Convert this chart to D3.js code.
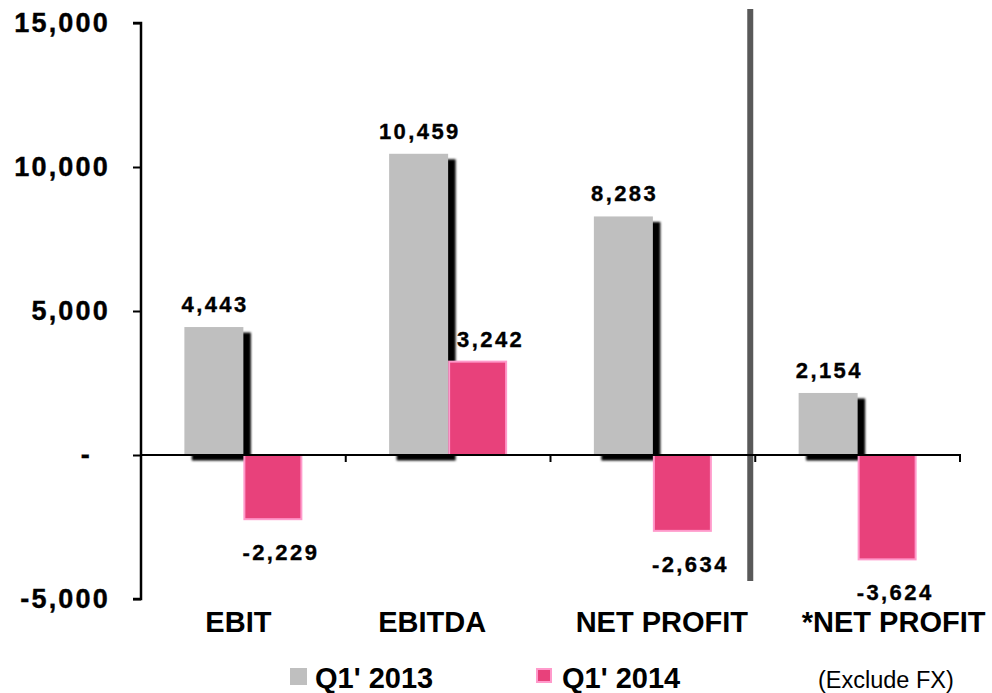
<!DOCTYPE html>
<html>
<head>
<meta charset="utf-8">
<script src="https://cdn.jsdelivr.net/npm/d3@7/dist/d3.min.js"></script>
<style>
  html, body { margin: 0; padding: 0; background: #ffffff; }
  svg { display: block; }
  text { font-family: "Liberation Sans", Arial, Helvetica, sans-serif; fill: #000; }
</style>
</head>
<body>
<svg id="chart" width="992" height="693"></svg>
<script>
// Categories and the two reporting periods
const categories = ["EBIT", "EBITDA", "NET PROFIT", "*NET PROFIT"];
const seriesNames = ["Q1' 2013", "Q1' 2014"];
const q1_2013 = [4443, 10459, 8283, 2154];
const q1_2014 = [-2229, 3242, -2634, -3624];
const yTicks = [-5000, 0, 5000, 10000, 15000];
const footnote = "(Exclude FX)";

// Horizontal nudges for the category captions (px)
const captionShift = [-5, -16, 9, 36];

const colors = { gray: "#BFBFBF", pink: "#E8417B", pinkEdge: "#FF9ACB" };

const svg = d3.select("#chart");

// Thousands separator with a plain hyphen for negatives
const fmt = d3.formatLocale({ decimal: ".", thousands: ",", grouping: [3], currency: ["", ""], minus: "-" }).format(",");

const x = d3.scaleBand().domain(categories).range([141, 960]).paddingInner(0).paddingOuter(0);
const groupWidth = 118;
const xs = d3.scaleBand().domain(seriesNames).range([0, groupWidth]);
const y = d3.scaleLinear().domain([-5000, 15000]).range([599, 23]);

const rows = categories.map((c, i) => ({ cat: c, i, a: q1_2013[i], b: q1_2014[i] }));
const groupX = d => x(d.cat) + (x.bandwidth() - groupWidth) / 2;

// Soft drop shadow behind the 2013 bars
const defs = svg.append("defs");
defs.append("filter").attr("id", "soft").attr("x", "-20%").attr("y", "-20%")
  .attr("width", "140%").attr("height", "140%")
  .append("feGaussianBlur").attr("stdDeviation", 0.8);

const bars = svg.append("g");

bars.selectAll("rect.shadow").data(rows).join("rect")
  .attr("class", "shadow")
  .attr("x", d => groupX(d) + xs(seriesNames[0]) + 7.5)
  .attr("y", d => Math.min(y(d.a), y(0)) + 5.5)
  .attr("width", xs.bandwidth())
  .attr("height", d => Math.abs(y(d.a) - y(0)))
  .attr("fill", "#000")
  .attr("filter", "url(#soft)");

bars.selectAll("rect.q13").data(rows).join("rect")
  .attr("class", "q13")
  .attr("x", d => groupX(d) + xs(seriesNames[0]))
  .attr("y", d => Math.min(y(d.a), y(0)))
  .attr("width", xs.bandwidth())
  .attr("height", d => Math.abs(y(d.a) - y(0)))
  .attr("fill", colors.gray);

bars.selectAll("rect.q14").data(rows).join("rect")
  .attr("class", "q14")
  .attr("x", d => groupX(d) + xs(seriesNames[1]) + 1)
  .attr("y", d => Math.min(y(d.b), y(0)))
  .attr("width", xs.bandwidth() - 2)
  .attr("height", d => Math.abs(y(d.b) - y(0)))
  .attr("fill", colors.pink)
  .attr("stroke", colors.pinkEdge)
  .attr("stroke-width", 2);

// Separator before the FX-adjusted group
const sepX = x(categories[3]) - 5;
svg.append("line")
  .attr("x1", sepX).attr("x2", sepX)
  .attr("y1", 9).attr("y2", 581)
  .attr("stroke", "#595959").attr("stroke-width", 6);

// Y axis
const yAxis = d3.axisLeft(y).tickValues(yTicks).tickSize(8).tickPadding(23)
  .tickFormat(d => d === 0 ? "-" : fmt(d));
const gy = svg.append("g").attr("transform", "translate(141,0)").call(yAxis);
gy.select(".domain").attr("stroke", "#000").attr("stroke-width", 2.5)
  .attr("d", `M-8,${y(15000)}H0V${y(-5000)}H-8`);
gy.selectAll(".tick line").attr("stroke", "#000").attr("stroke-width", 2);
gy.selectAll(".tick text")
  .style("font-family", '"Liberation Sans", Arial, sans-serif')
  .style("font-size", "27px").style("font-weight", "bold")
  .style("letter-spacing", "2.2px").attr("fill", "#000")
  .attr("stroke", "#000").attr("stroke-width", 0.4)
  .attr("dx", d => d === 0 ? -18 : 0);

// Zero baseline with category dividers
const zeroY = y(0);
svg.append("line").attr("x1", 141).attr("x2", 961).attr("y1", zeroY).attr("y2", zeroY)
  .attr("stroke", "#000").attr("stroke-width", 2);
const dividers = categories.slice(1).map(c => x(c)).concat([x.range()[1]]);
svg.selectAll("line.div").data(dividers).join("line")
  .attr("class", "div")
  .attr("x1", d => d).attr("x2", d => d)
  .attr("y1", zeroY).attr("y2", zeroY + 7)
  .attr("stroke", "#000").attr("stroke-width", 2);

// Value labels
const labelStyle = sel => sel
  .attr("text-anchor", "middle")
  .style("font-size", "22px").style("font-weight", "bold")
  .style("letter-spacing", "2.4px")
  .attr("stroke", "#000").attr("stroke-width", 0.35);

svg.selectAll("text.v13").data(rows).join("text")
  .attr("class", "v13")
  .attr("x", d => groupX(d) + xs(seriesNames[0]) + xs.bandwidth() / 2 + 1.2)
  .attr("y", d => d.a >= 0 ? y(d.a) - 15 : y(d.a) + 41)
  .text(d => fmt(d.a))
  .call(labelStyle);

svg.selectAll("text.v14").data(rows).join("text")
  .attr("class", "v14")
  .attr("x", d => groupX(d) + xs(seriesNames[1]) + xs.bandwidth() / 2 + (d.b >= 0 ? 13 : 8))
  .attr("y", d => d.b >= 0 ? y(d.b) - 15 : y(d.b) + 41)
  .text(d => fmt(d.b))
  .call(labelStyle);

// Category captions
svg.selectAll("text.cat").data(categories).join("text")
  .attr("class", "cat")
  .attr("x", (c, i) => x(c) + x.bandwidth() / 2 + captionShift[i])
  .attr("y", 632)
  .attr("text-anchor", "middle")
  .style("font-size", "29px").style("font-weight", "bold")
  .text(c => c);

// Legend
const legend = svg.append("g");
legend.append("rect").attr("x", 290).attr("y", 668).attr("width", 17).attr("height", 17)
  .attr("fill", colors.gray);
legend.append("text").attr("x", 315).attr("y", 688)
  .style("font-size", "29px").style("font-weight", "bold").text(seriesNames[0]);
legend.append("rect").attr("x", 537).attr("y", 669).attr("width", 14).attr("height", 13)
  .attr("fill", colors.pink).attr("stroke", colors.pinkEdge).attr("stroke-width", 2);
legend.append("text").attr("x", 562).attr("y", 688)
  .style("font-size", "29px").style("font-weight", "bold").text(seriesNames[1]);
legend.append("text").attr("x", 818).attr("y", 688)
  .style("font-size", "23.5px").text(footnote);
</script>
</body>
</html>
